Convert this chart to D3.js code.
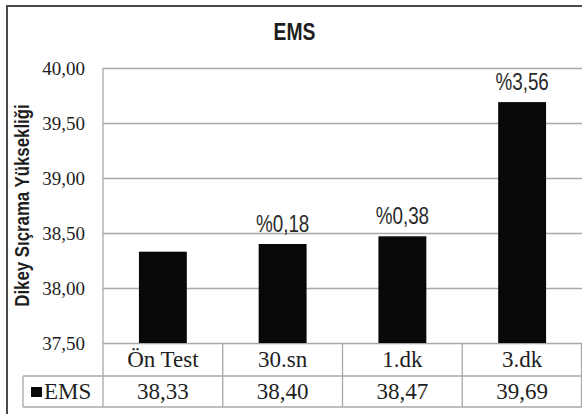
<!DOCTYPE html>
<html>
<head>
<meta charset="utf-8">
<script src="https://cdn.jsdelivr.net/npm/d3@7"></script>
<style>
  html, body { margin: 0; padding: 0; background: #fff; }
  svg { display: block; }
</style>
</head>
<body>
<svg id="chart" width="582" height="414"></svg>
<script>
// ---- data ----
const categories = ["Ön Test", "30.sn", "1.dk", "3.dk"];
const seriesName = "EMS";
const values = [38.33, 38.40, 38.47, 39.69];
const valueLabels = ["38,33", "38,40", "38,47", "39,69"];
const changeLabels = ["", "%0,18", "%0,38", "%3,56"];
const yTicks = [37.5, 38.0, 38.5, 39.0, 39.5, 40.0];
const titleText = "EMS";
const yTitle = "Dikey Sıçrama Yüksekliği";

// ---- layout ----
const W = 582, H = 414;
const plot = { left: 103, right: 582, top: 68, bottom: 343 };
const row1 = 376, row2 = 407, tableLeft = 23;
const gridColor = "#a8a8a8";
const textColor = "#1e1e1e";
const serif = "'Liberation Serif','Times New Roman',serif";
const sans = "'Liberation Sans',Arial,sans-serif";

const svg = d3.select("#chart");

const y = d3.scaleLinear().domain([37.5, 40]).range([plot.bottom, plot.top]);
const col = d3.scaleBand().domain(categories).range([plot.left, plot.right]).padding(0);
const bar = d3.scaleBand().domain(categories).range([plot.left, plot.right])
  .paddingInner(0.6).paddingOuter(0.3);

// frame
svg.append("line").attr("x1", 7).attr("x2", 7).attr("y1", 5).attr("y2", H)
  .attr("stroke", "#4a4a4a").attr("stroke-width", 2);
svg.append("line").attr("x1", 6).attr("x2", W).attr("y1", 6).attr("y2", 6)
  .attr("stroke", "#4a4a4a").attr("stroke-width", 2);

// title
svg.append("text").text(titleText)
  .attr("transform", "translate(294.5,40) scale(0.84,1)")
  .attr("text-anchor", "middle")
  .style("font-family", sans).attr("font-weight", "bold").attr("font-size", 23)
  .attr("fill", textColor);

// gridlines via axis
const yAxis = d3.axisLeft(y).tickValues(yTicks)
  .tickSize(-(plot.right - plot.left))
  .tickFormat(d => d3.format(".2f")(d).replace(".", ","));
const gy = svg.append("g").attr("transform", `translate(${plot.left},0)`).call(yAxis);
gy.attr("font-family", null).attr("font-size", null);
gy.select(".domain").remove();
gy.selectAll(".tick line").attr("stroke", gridColor).attr("stroke-width", 1.3);
gy.selectAll(".tick text")
  .attr("x", -18).attr("dy", "0.33em")
  .style("font-family", serif).style("font-size", "19px").attr("fill", textColor);

// plot left line down through table
svg.append("line").attr("x1", plot.left).attr("x2", plot.left)
  .attr("y1", plot.top).attr("y2", row2)
  .attr("stroke", gridColor).attr("stroke-width", 1.3);

// y title
svg.append("text").text(yTitle)
  .attr("transform", `translate(29,${(plot.top + plot.bottom) / 2}) rotate(-90) scale(0.82,1)`)
  .attr("text-anchor", "middle")
  .style("font-family", sans).attr("font-weight", "bold").attr("font-size", 20.5)
  .attr("fill", textColor);

// bars
svg.append("g").selectAll("rect").data(values).join("rect")
  .attr("x", (d, i) => bar(categories[i]))
  .attr("width", bar.bandwidth())
  .attr("y", d => y(d))
  .attr("height", d => y(37.5) - y(d))
  .attr("fill", "#080808");

// change labels
svg.append("g").selectAll("text").data(values).join("text")
  .text((d, i) => changeLabels[i])
  .attr("transform", (d, i) =>
    `translate(${bar(categories[i]) + bar.bandwidth() / 2},${y(d) - 12}) scale(0.82,1)`)
  .attr("text-anchor", "middle")
  .style("font-family", sans).attr("font-size", 23).attr("fill", "#2a2a2a");

// data table
const tbl = svg.append("g").attr("stroke", gridColor).attr("stroke-width", 1.3);
tbl.append("line").attr("x1", tableLeft).attr("x2", plot.right).attr("y1", row1).attr("y2", row1);
tbl.append("line").attr("x1", tableLeft).attr("x2", plot.right).attr("y1", row2).attr("y2", row2);
tbl.append("line").attr("x1", tableLeft).attr("x2", tableLeft).attr("y1", row1).attr("y2", row2);
tbl.selectAll(".vdiv").data(categories.slice(1)).join("line")
  .attr("x1", d => col(d)).attr("x2", d => col(d))
  .attr("y1", plot.bottom).attr("y2", row2);
tbl.append("line").attr("x1", plot.right - 0.5).attr("x2", plot.right - 0.5)
  .attr("y1", plot.bottom).attr("y2", row2);

svg.append("g").selectAll("text").data(categories).join("text")
  .text(d => d)
  .attr("x", d => col(d) + col.bandwidth() / 2)
  .attr("y", 367)
  .attr("text-anchor", "middle")
  .style("font-family", serif).attr("font-size", 23).attr("fill", textColor);

svg.append("g").selectAll("text").data(valueLabels).join("text")
  .text(d => d)
  .attr("x", (d, i) => col(categories[i]) + col.bandwidth() / 2)
  .attr("y", 399)
  .attr("text-anchor", "middle")
  .style("font-family", serif).attr("font-size", 23).attr("fill", textColor);

// legend key in table
svg.append("rect").attr("x", 31).attr("y", 387).attr("width", 11).attr("height", 10).attr("fill", "#080808");
svg.append("text").text(seriesName)
  .attr("x", 44).attr("y", 399)
  .style("font-family", serif).attr("font-size", 23).attr("fill", textColor);
</script>
</body>
</html>
